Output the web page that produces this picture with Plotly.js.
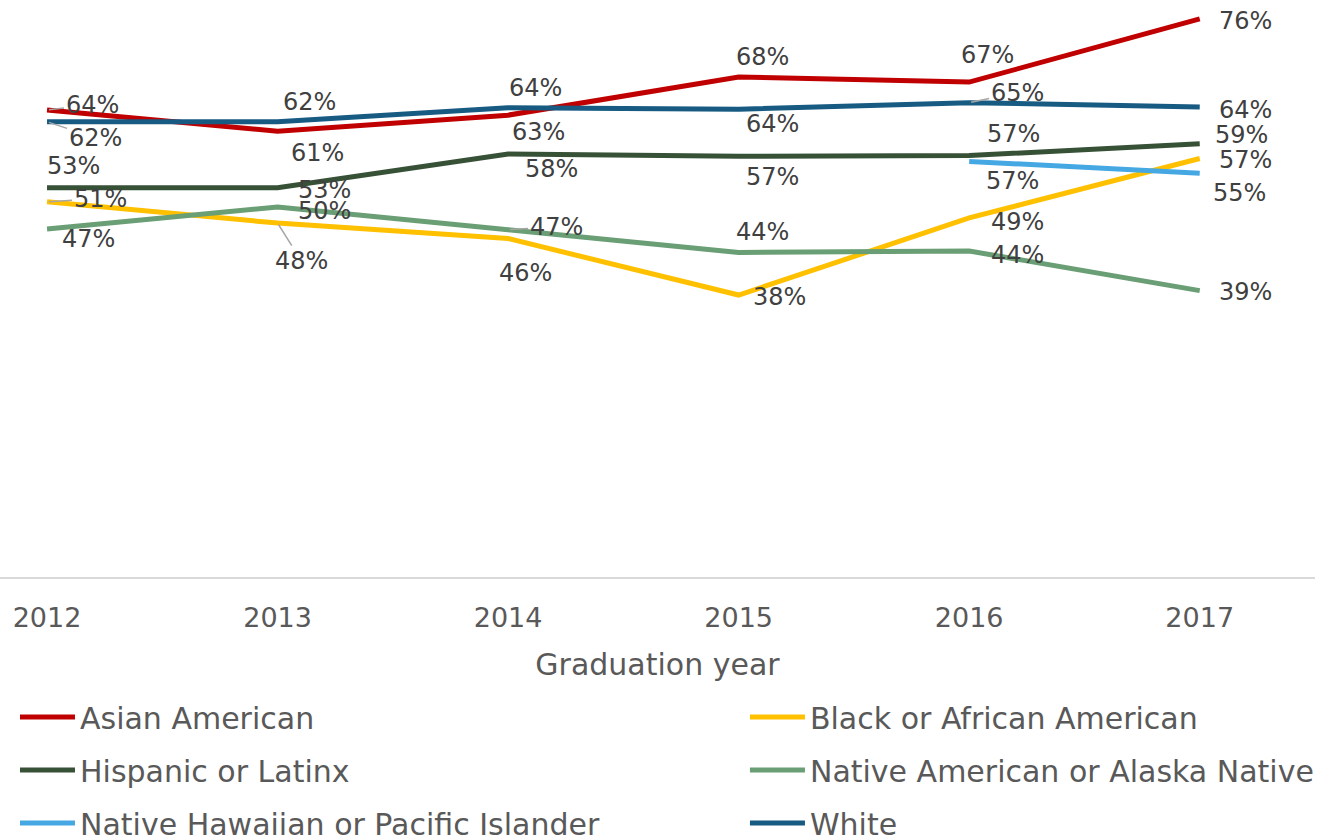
<!DOCTYPE html>
<html>
<head>
<meta charset="utf-8">
<script src="https://cdn.plot.ly/plotly-3.0.1.min.js"></script>
<style>html,body{margin:0;padding:0;background:#fff;}#chart{width:1338px;height:838px;}</style>
</head>
<body>
<div id="chart"></div>
<script>
// ---- data ----
const years = ['2012', '2013', '2014', '2015', '2016', '2017'];
const seriesNames = ['Asian American', 'Black or African American', 'Hispanic or Latinx',
  'Native American or Alaska Native', 'Native Hawaiian or Pacific Islander', 'White'];
const asian = [63.6, 60.7, 62.9, 68.1, 67.4, 76.0];
const black = [51.1, 48.2, 46.1, 38.4, 48.9, 57.0];
const hispanic = [53.0, 53.0, 57.6, 57.3, 57.4, 59.0];
const nativeAm = [47.4, 50.4, 47.3, 44.2, 44.4, 39.0];
const nhpi = [null, null, null, null, 56.6, 55.0];
const white = [62.0, 62.0, 63.9, 63.7, 64.6, 64.0];

// ---- styling ----
const colors = ['#C00000', '#FFC000', '#375137', '#6A9E74', '#45A8E3', '#175A82'];
const values = [asian, black, hispanic, nativeAm, nhpi, white];
const FONT = 'DejaVu Sans, sans-serif';

// legend placement (one legend per entry, two columns x three rows)
const legendX = [0.0114, 0.5665, 0.0114, 0.5665, 0.0114, 0.5665];
const legendY = [0.1444, 0.1444, 0.0811, 0.0811, 0.0179, 0.0179];

// label offsets (px) relative to each point: [ax, ay], and whether a leader line is shown
const labelOffsets = [
  [[45,-5],[40,22],[30,17],[24,-20],[18,-27],[46,2]],
  [[53,-3],[24,38],[17,34],[41,2],[48,4],[46,2]],
  [[26,-22],[47,2],[43,15],[34,21],[44,-22],[42,-9]],
  [[41,10],[47,4],[48,-3],[24,-20],[48,4],[46,1]],
  [null,null,null,null,[43,20],[40,20]],
  [[48,16],[32,-20],[27,-20],[34,15],[48,-10],[46,3]]
];
const leaders = [
  [true,false,false,false,false,false],
  [true,true,false,false,false,false],
  [false,false,false,false,false,false],
  [false,false,true,false,false,false],
  [false,false,false,false,false,false],
  [true,false,false,false,true,false]
];

const legendId = s => (s === 0 ? 'legend' : 'legend' + (s + 1));

const traces = values.map((vals, s) => ({
  type: 'scatter', mode: 'lines', x: years, y: vals, name: seriesNames[s],
  line: {color: colors[s], width: 5}, cliponaxis: false,
  legend: legendId(s), hoverinfo: 'skip'
}));

const annotations = [];
values.forEach((vals, s) => {
  vals.forEach((v, i) => {
    if (v === null) return;
    const off = labelOffsets[s][i];
    const lead = leaders[s][i];
    annotations.push({
      x: i, y: v, xref: 'x', yref: 'y',
      text: Math.round(v) + '%', showarrow: true,
      ax: off[0], ay: off[1], arrowhead: 0,
      arrowwidth: lead ? 1.5 : 0.1,
      arrowcolor: lead ? '#A6A6A6' : 'rgba(0,0,0,0)',
      standoff: 2,
      font: {family: FONT, size: 24, color: '#404040'}
    });
  });
});

const layout = {
  width: 1338, height: 838,
  margin: {l: 0, r: 23, t: 0, b: 261},
  paper_bgcolor: '#fff', plot_bgcolor: '#fff',
  showlegend: true,
  xaxis: {
    type: 'category', range: [-0.204, 5.5],
    showline: true, linecolor: '#D9D9D9', linewidth: 1.5,
    showgrid: false, zeroline: false, ticks: '',
    ticklabelstandoff: 16,
    tickfont: {family: FONT, size: 27, color: '#595959'},
    title: {text: 'Graduation year', standoff: 22, font: {family: FONT, size: 30, color: '#595959'}}
  },
  yaxis: {
    range: [0, 78.58], showgrid: false, zeroline: false, showline: false,
    showticklabels: false, ticks: ''
  },
  annotations: annotations
};

values.forEach((vals, s) => {
  layout[legendId(s)] = {
    orientation: 'h', x: legendX[s], xanchor: 'left',
    y: legendY[s], yref: 'container', yanchor: 'middle',
    itemwidth: 55,
    font: {family: FONT, size: 30, color: '#595959'}, bgcolor: 'rgba(0,0,0,0)'
  };
});

Plotly.newPlot('chart', traces, layout, {displayModeBar: false, staticPlot: true});
</script>
</body>
</html>
